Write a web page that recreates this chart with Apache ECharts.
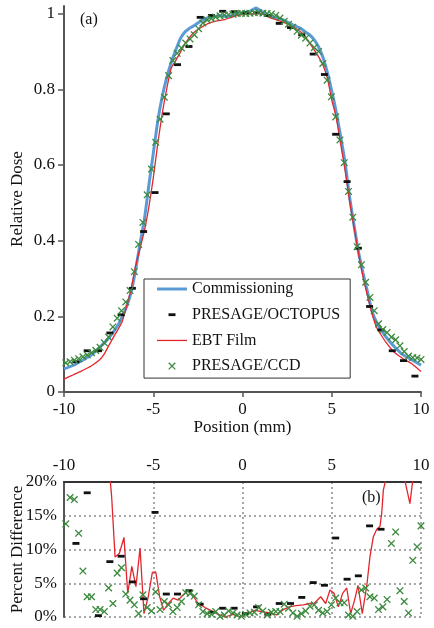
<!DOCTYPE html>
<html><head><meta charset="utf-8">
<script src="https://cdn.jsdelivr.net/npm/echarts@6/dist/echarts.min.js"></script>
<style>html,body{margin:0;padding:0;background:#fff}#c{width:434px;height:628px}</style>
</head><body><div id="c"></div>
<script>
const FONT = 'Liberation Serif';
const xTicks = [-10, -5, 0, 5, 10];
const doseTicks = [0, 0.2, 0.4, 0.6, 0.8, 1];
const pctTicks = [0, 5, 10, 15, 20];

// Commissioning (blue line)
const commX = [-10,-9.5,-9,-8.5,-8,-7.5,-7,-6.75,-6.5,-6.25,-6,-5.75,-5.5,-5.25,-5,-4.75,-4.5,-4.25,-4,-3.75,-3.5,-3.25,-3,-2.75,-2.5,-2.25,-2,-1.75,-1.5,-1.25,-1,-0.75,-0.5,-0.25,0,0.25,0.5,0.75,1,1.25,1.5,1.75,2,2.25,2.5,2.75,3,3.25,3.5,3.75,4,4.25,4.5,4.75,5,5.25,5.5,5.75,6,6.25,6.5,6.75,7,7.25,7.5,7.75,8,8.5,9,9.5,10];
const commY = [0.061,0.070,0.083,0.097,0.118,0.142,0.175,0.198,0.225,0.262,0.320,0.390,0.455,0.545,0.630,0.715,0.780,0.830,0.870,0.902,0.932,0.950,0.960,0.967,0.975,0.983,0.988,0.991,0.993,0.994,0.993,0.993,0.996,1.000,1.002,1.004,1.008,1.015,1.008,1.000,0.995,0.990,0.988,0.984,0.978,0.972,0.966,0.961,0.952,0.944,0.932,0.913,0.885,0.845,0.795,0.740,0.675,0.605,0.515,0.440,0.370,0.315,0.265,0.215,0.185,0.165,0.148,0.120,0.098,0.085,0.071];

// EBT Film (red line)
const ebtX = [-10,-9.5,-9,-8.5,-8,-7.75,-7.5,-7.25,-7,-6.75,-6.5,-6.25,-6,-5.75,-5.5,-5.25,-5,-4.75,-4.5,-4.25,-4,-3.75,-3.5,-3.25,-3,-2.75,-2.5,-2.25,-2,-1.5,-1,-0.5,0,0.5,1,1.5,2,2.5,3,3.25,3.5,3.75,4,4.25,4.5,4.75,5,5.25,5.5,5.75,6,6.25,6.5,6.75,7,7.25,7.5,7.75,8,8.5,9,9.5,10];
const ebtY = [0.034,0.045,0.056,0.068,0.085,0.100,0.122,0.143,0.163,0.185,0.225,0.270,0.330,0.378,0.425,0.488,0.565,0.655,0.735,0.800,0.855,0.875,0.896,0.918,0.935,0.949,0.958,0.965,0.972,0.980,0.984,0.992,0.997,0.999,1.000,0.990,0.982,0.973,0.960,0.952,0.940,0.923,0.905,0.887,0.865,0.830,0.772,0.725,0.655,0.585,0.505,0.435,0.365,0.305,0.255,0.208,0.172,0.152,0.134,0.105,0.088,0.074,0.054];

// PRESAGE/OCTOPUS (black dashes)
const octX = [-9.33,-8.70,-8.07,-7.43,-6.80,-6.17,-5.54,-4.90,-4.27,-3.64,-3.00,-2.37,-1.74,-1.11,-0.47,0.16,0.79,1.42,2.06,2.69,3.32,3.96,4.59,5.22,5.86,6.49,7.12,7.76,8.39,9.02,9.66];
const octY = [0.080,0.109,0.109,0.156,0.204,0.274,0.424,0.527,0.735,0.865,0.913,0.990,0.995,1.006,1.005,1.002,1.002,0.995,0.974,0.963,0.944,0.893,0.839,0.681,0.556,0.380,0.226,0.164,0.109,0.083,0.042];
const octPct = [10.9,18.4,0.2,8.2,9.0,5.2,2.7,15.5,3.4,3.4,3.9,1.9,0.7,1.3,1.3,0.5,1.5,0.4,2.0,2.0,2.9,5.1,4.7,11.7,5.6,6.1,13.5,13.0,null,null,null];

// PRESAGE/CCD (green crosses)
const ccdX = [-9.90,-9.66,-9.42,-9.18,-8.94,-8.70,-8.46,-8.22,-7.98,-7.74,-7.50,-7.26,-7.02,-6.78,-6.54,-6.30,-6.06,-5.82,-5.58,-5.34,-5.10,-4.86,-4.62,-4.38,-4.14,-3.90,-3.66,-3.42,-3.18,-2.94,-2.70,-2.46,-2.22,-1.98,-1.74,-1.50,-1.26,-1.02,-0.78,-0.54,-0.30,-0.06,0.18,0.42,0.66,0.90,1.14,1.38,1.62,1.86,2.10,2.34,2.58,2.82,3.06,3.30,3.54,3.78,4.02,4.26,4.50,4.74,4.98,5.22,5.46,5.70,5.94,6.18,6.42,6.66,6.90,7.14,7.38,7.62,7.86,8.10,8.34,8.58,8.82,9.06,9.30,9.54,9.78,10.00];
const ccdY = [0.077,0.080,0.084,0.088,0.093,0.098,0.104,0.110,0.118,0.130,0.145,0.172,0.195,0.215,0.238,0.268,0.318,0.390,0.448,0.521,0.589,0.660,0.721,0.779,0.836,0.876,0.895,0.909,0.922,0.933,0.944,0.960,0.975,0.983,0.987,0.991,0.994,0.996,0.997,0.998,1.000,1.001,1.000,1.001,1.002,1.003,1.001,1.000,0.999,0.995,0.988,0.980,0.972,0.964,0.953,0.943,0.935,0.922,0.910,0.900,0.868,0.824,0.780,0.727,0.666,0.606,0.530,0.462,0.384,0.336,0.290,0.250,0.215,0.180,0.165,0.157,0.145,0.138,0.122,0.107,0.095,0.091,0.090,0.086];
const ccdPct = [13.8,17.7,17.4,12.4,6.8,3.0,3.0,1.1,1.1,0.8,4.3,2.0,6.5,7.3,3.4,2.5,1.8,0.5,3.3,1.4,0.9,3.7,1.1,2.3,1.8,0.8,1.4,2.3,3.6,3.5,3.1,1.8,0.8,0.5,0.4,0.8,0.1,0.3,0.9,0.6,0.3,0.1,0.4,0.6,0.7,1.4,0.9,0.3,0.7,0.8,0.8,1.9,1.3,0.6,0.1,0.5,0.9,1.6,1.8,1.0,0.6,0.8,1.8,2.8,2.1,2.1,0.3,0.1,0.8,4.0,4.3,3.0,2.8,1.1,1.5,2.6,10.9,12.6,3.9,2.3,0.6,8.4,10.4,13.5];

// EBT Film percent difference (red line, lower panel)
const ebtPctX = [-7.55,-7.42,-7.33,-7.14,-6.90,-6.64,-6.43,-6.20,-5.97,-5.74,-5.52,-5.28,-5.05,-4.86,-4.64,-4.42,-4.16,-3.88,-3.60,-3.32,-3.04,-2.76,-2.48,-2.10,-1.73,-1.36,-0.98,-0.52,-0.14,0.30,0.70,1.08,1.54,1.92,2.29,2.62,3.00,3.41,3.78,4.01,4.38,4.66,4.90,5.13,5.37,5.61,5.84,6.06,6.28,6.47,6.71,6.96,7.14,7.33,7.52,7.70,7.80,7.89,8.04,8.30,8.70,8.90,9.05,9.38,9.57,10.0];
const ebtPctY = [26,20.5,17.8,8.9,9.4,11.8,3.5,7.5,4.5,10.2,0.5,3.0,6.6,6.7,3.0,1.0,2.0,2.8,2.5,3.3,3.9,3.1,2.0,1.4,0.9,0.4,0.0,0.4,0.0,0.5,1.0,0.8,0.6,0.3,1.1,1.5,1.7,1.8,2.0,2.0,3.0,2.0,4.0,3.5,1.5,3.5,4.3,0.5,2.5,4.7,0.5,4.6,8.9,11.9,13.0,13.4,15.4,18.8,20.5,30,35,26,20.8,16.8,21,30];

const zip = (xs, ys) => xs.map((x, i) => [x, ys[i]]).filter(p => p[1] !== null);

const C_BLUE = '#5b9bd5', C_RED = '#e3262e', C_BLACK = '#111', C_GREEN = '#3b8a3e', AX = '#555';
const dashSym = 'path://M0 0 M30 14 M11.5 5.6 h7 v2.8 h-7 Z';
const crossSym = 'path://M0 0 M30 14 M12.16 3.24 L18.76 9.84 L17.84 10.76 L11.24 4.16 Z M12.16 10.76 L11.24 9.84 L17.84 3.24 L18.76 4.16 Z';
const blueIcon = 'path://M0 0 M30 14 M0 5.5 h30 v3 h-30 Z';
const redIcon = 'path://M0 0 M30 14 M0 6.4 h30 v1.3 h-30 Z';

const txt = (s) => ({ fontFamily: FONT, fontSize: s, color: '#111' });

const chart = echarts.init(document.getElementById('c'), null, { renderer: 'canvas' });
chart.setOption({
  animation: false,
  backgroundColor: '#fff',
  grid: [
    { left: 64, right: 13, top: 6, bottom: 236, outerBoundsMode: 'none', containLabel: false },
    { left: 64, right: 13, top: 482, bottom: 11, outerBoundsMode: 'none', containLabel: false }
  ],
  xAxis: [
    { gridIndex: 0, type: 'value', min: -10, max: 10, interval: 5,
      axisLine: { show: true, onZero: false, lineStyle: { color: AX, width: 2 } },
      axisTick: { show: true, length: 5, lineStyle: { color: AX, width: 1.5 } },
      axisLabel: Object.assign({ margin: 9 }, txt(17)),
      splitLine: { show: false },
      name: 'Position (mm)', nameLocation: 'middle', nameGap: 27, nameMoveOverlap: false,
      nameTextStyle: txt(17) },
    { gridIndex: 1, type: 'value', position: 'top', min: -10, max: 10, interval: 5,
      axisLine: { show: true, onZero: false, lineStyle: { color: '#333', width: 2 } },
      axisTick: { show: false },
      axisLabel: Object.assign({ margin: 8 }, txt(17)),
      splitLine: { show: true, lineStyle: { color: '#8a8a8a', width: 1.5, type: [2, 3] } } }
  ],
  yAxis: [
    { gridIndex: 0, type: 'value', min: 0, max: 1.02, interval: 0.2,
      axisLine: { show: true, onZero: false, lineStyle: { color: AX, width: 2 } },
      axisTick: { show: true, length: 6, customValues: doseTicks, lineStyle: { color: AX, width: 1.5 } },
      axisLabel: Object.assign({ margin: 9, customValues: doseTicks }, txt(17)),
      splitLine: { show: false },
      name: 'Relative Dose', nameLocation: 'middle', nameGap: 38, nameMoveOverlap: false,
      nameTextStyle: txt(17) },
    { gridIndex: 1, type: 'value', min: 0, max: 20, interval: 5,
      axisLine: { show: true, onZero: false, lineStyle: { color: AX, width: 2 } },
      axisTick: { show: false },
      axisLabel: Object.assign({ margin: 7, formatter: '{value}%' }, txt(17)),
      splitLine: { show: true, lineStyle: { color: '#8a8a8a', width: 1.5, type: [2, 3] } },
      name: 'Percent Difference', nameLocation: 'middle', nameGap: 38, nameMoveOverlap: false,
      nameTextStyle: txt(17) }
  ],
  legend: {
    orient: 'vertical', left: 144, top: 279,
    itemWidth: 30, itemHeight: 14, itemGap: 9.7,
    padding: [2, 10, 4, 13],
    borderColor: '#333', borderWidth: 1, borderRadius: 0,
    backgroundColor: 'transparent',
    selectedMode: false,
    textStyle: { fontFamily: FONT, fontSize: 16, color: '#111' },
    data: [
      { name: 'Commissioning', icon: blueIcon, itemStyle: { color: C_BLUE, borderWidth: 0, opacity: 1 } },
      { name: 'PRESAGE/OCTOPUS', icon: dashSym, itemStyle: { color: C_BLACK, borderWidth: 0, opacity: 1 } },
      { name: 'EBT Film', icon: redIcon, itemStyle: { color: C_RED, borderWidth: 0, opacity: 1 } },
      { name: 'PRESAGE/CCD', icon: crossSym, itemStyle: { color: C_GREEN, borderWidth: 0, opacity: 1 } }
    ]
  },
  graphic: [
    { type: 'text', left: 80, top: 12, style: { text: '(a)', font: '16px "Liberation Serif"', fill: '#111' } },
    { type: 'text', left: 362, top: 490, style: { text: '(b)', font: '16px "Liberation Serif"', fill: '#111' } }
  ],
  series: [
    { name: 'Commissioning', type: 'line', xAxisIndex: 0, yAxisIndex: 0, data: zip(commX, commY),
      showSymbol: false, symbol: 'none', smooth: 0.2, z: 2, silent: true,
      lineStyle: { color: C_BLUE, width: 3 }, itemStyle: { color: C_BLUE } },
    { name: 'EBT Film', type: 'line', xAxisIndex: 0, yAxisIndex: 0, data: zip(ebtX, ebtY),
      showSymbol: false, symbol: 'none', smooth: 0.2, z: 3, silent: true,
      lineStyle: { color: C_RED, width: 1.3 }, itemStyle: { color: C_RED } },
    { name: 'PRESAGE/OCTOPUS', type: 'scatter', xAxisIndex: 0, yAxisIndex: 0, data: zip(octX, octY),
      symbol: dashSym, symbolSize: [30, 14], z: 4, silent: true, itemStyle: { color: C_BLACK, opacity: 1 } },
    { name: 'PRESAGE/CCD', type: 'scatter', xAxisIndex: 0, yAxisIndex: 0, data: zip(ccdX, ccdY),
      symbol: crossSym, symbolSize: [30, 14], z: 5, silent: true, itemStyle: { color: C_GREEN, opacity: 1 } },
    { name: 'EBT Film diff', type: 'line', xAxisIndex: 1, yAxisIndex: 1, data: zip(ebtPctX, ebtPctY),
      showSymbol: false, symbol: 'none', z: 3, silent: true, clip: true,
      lineStyle: { color: C_RED, width: 1.3 } },
    { name: 'OCTOPUS diff', type: 'scatter', xAxisIndex: 1, yAxisIndex: 1, data: zip(octX, octPct),
      symbol: dashSym, symbolSize: [30, 14], z: 4, silent: true, clip: true, itemStyle: { color: C_BLACK, opacity: 1 } },
    { name: 'CCD diff', type: 'scatter', xAxisIndex: 1, yAxisIndex: 1, data: zip(ccdX, ccdPct),
      symbol: crossSym, symbolSize: [30, 14], z: 5, silent: true, clip: true, itemStyle: { color: C_GREEN, opacity: 1 } }
  ]
});
</script>
</body></html>
